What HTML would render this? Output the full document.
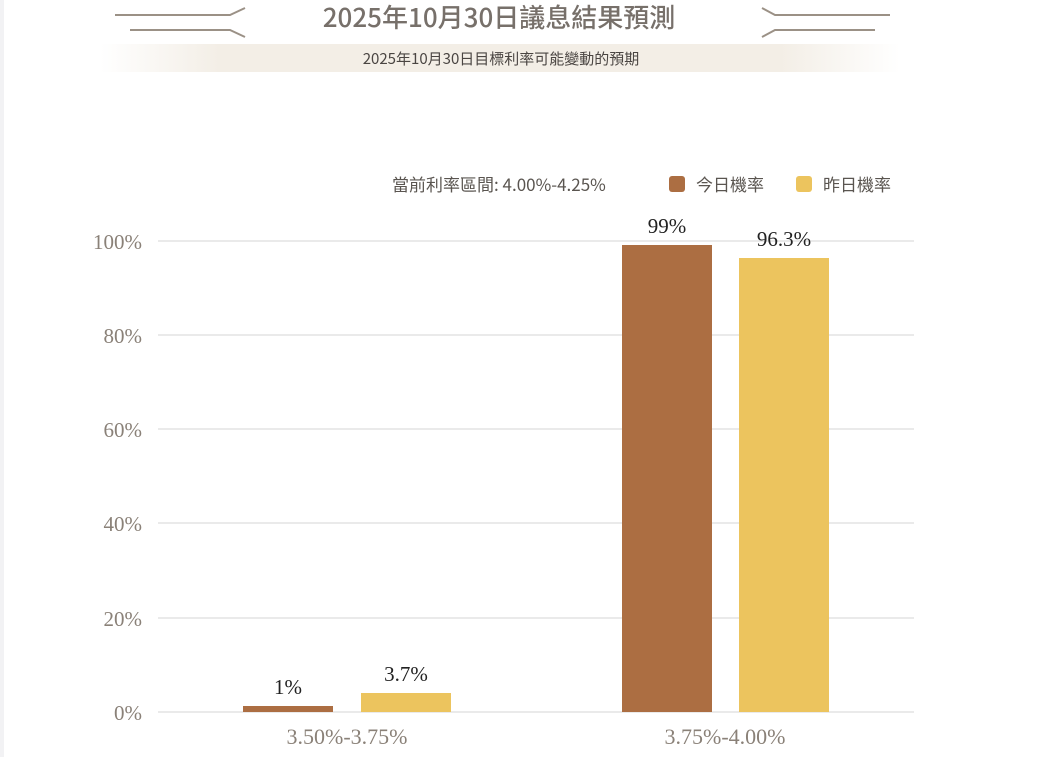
<!DOCTYPE html>
<html><head><meta charset="utf-8"><style>
body{margin:0;width:1051px;height:757px;background:#fff;overflow:hidden;position:relative;font-family:"Noto Sans CJK TC",sans-serif}
.abs{position:absolute}
</style></head><body>
<div class="abs" style="left:0;top:0;width:4px;height:757px;background:#f2f2f4"></div>
<div class="abs" style="left:100px;top:44px;width:800px;height:28px;background:linear-gradient(90deg,rgba(245,240,232,0),#f3eee6 15%,#f3eee6 85%,rgba(245,240,232,0))"></div>
<svg class="abs" style="left:0;top:0" width="1051" height="757">
<path d="M115 15 L230 15 L245 8" stroke="#9b9186" stroke-width="2" fill="none"/>
<path d="M130 30 L230 30 L245 37" stroke="#9b9186" stroke-width="2" fill="none"/>
<path d="M890 15 L775 15 L762 8" stroke="#9b9186" stroke-width="2" fill="none"/>
<path d="M875 30 L775 30 L762 37" stroke="#9b9186" stroke-width="2" fill="none"/>
<g stroke="#e3e3e3" stroke-width="1.5">
<line x1="158" y1="241" x2="914" y2="241"/><line x1="158" y1="335" x2="914" y2="335"/>
<line x1="158" y1="429" x2="914" y2="429"/><line x1="158" y1="523" x2="914" y2="523"/>
<line x1="158" y1="618" x2="914" y2="618"/><line x1="158" y1="712" x2="914" y2="712"/>
</g>
<rect x="243" y="706" width="90" height="6" fill="#ac6e42"/>
<rect x="361" y="693" width="90" height="19" fill="#ecc45e"/>
<rect x="622" y="245" width="90" height="467" fill="#ac6e42"/>
<rect x="739" y="258" width="90" height="454" fill="#ecc45e"/>
<g font-family="Liberation Serif,serif" font-size="21" fill="#8a8178" text-anchor="end">
<text x="142" y="249">100%</text><text x="142" y="343">80%</text><text x="142" y="437">60%</text>
<text x="142" y="531">40%</text><text x="142" y="626">20%</text><text x="142" y="720">0%</text>
</g>
<g font-family="Liberation Serif,serif" font-size="21" fill="#222" text-anchor="middle">
<text x="288" y="694">1%</text><text x="406" y="681">3.7%</text>
<text x="667" y="233">99%</text><text x="784" y="246">96.3%</text>
</g>
<g font-family="Liberation Serif,serif" font-size="22" fill="#8a8178" text-anchor="middle">
<text x="347" y="744">3.50%-3.75%</text><text x="725" y="744">3.75%-4.00%</text>
</g>
<rect x="669" y="176" width="16" height="16" rx="3" fill="#ac6e42"/>
<rect x="796" y="176" width="16" height="16" rx="3" fill="#ecc45e"/>
</svg>
<div class="abs" style="left:0;width:998px;top:-2px;text-align:center;font-size:26px;font-weight:500;color:#77706a">2025年10月30日議息結果預測</div>
<div class="abs" style="left:0;width:1002px;top:48px;text-align:center;font-size:15px;color:#4a4542">2025年10月30日目標利率可能變動的預期</div>
<div class="abs" style="left:392px;top:171px;font-size:17px;color:#5a5550">當前利率區間: 4.00%-4.25%</div>
<div class="abs" style="left:696px;top:171px;font-size:17px;color:#5a5550">今日機率</div>
<div class="abs" style="left:823px;top:171px;font-size:17px;color:#5a5550">昨日機率</div>
</body></html>
